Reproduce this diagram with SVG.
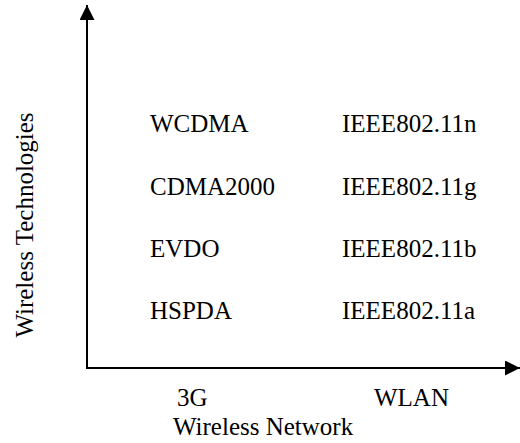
<svg xmlns="http://www.w3.org/2000/svg" width="520" height="443" viewBox="0 0 520 443">
<style>
  text { font-family: "Liberation Serif", "Times New Roman", serif; font-size: 25px; fill: #000; }
  .axis { stroke: #000; stroke-width: 2; fill: none; }
</style>
<defs>
  <marker id="arrow" viewBox="0 0 15 15" refX="15" refY="7.5" markerWidth="15" markerHeight="15" markerUnits="userSpaceOnUse" orient="auto">
    <path d="M0,0 L15,7.5 L0,15 z" fill="#000"/>
  </marker>
</defs>
<rect width="520" height="443" fill="#fff"/>
<g id="connectors">
  <line class="axis" x1="87" y1="369" x2="87" y2="5" marker-end="url(#arrow)"/>
  <line class="axis" x1="86" y1="368" x2="520" y2="368" marker-end="url(#arrow)"/>
</g>
<g id="ylabel"><text x="33" y="225" text-anchor="middle" transform="rotate(-90 33 225)">Wireless Technologies</text></g>
<g id="wcdma"><text x="150" y="132">WCDMA</text></g>
<g id="cdma2000"><text x="150" y="195">CDMA2000</text></g>
<g id="evdo"><text x="150" y="257">EVDO</text></g>
<g id="hspda"><text x="150" y="319">HSPDA</text></g>
<g id="ieee80211n"><text x="342" y="132">IEEE802.11n</text></g>
<g id="ieee80211g"><text x="342" y="195">IEEE802.11g</text></g>
<g id="ieee80211b"><text x="342" y="257">IEEE802.11b</text></g>
<g id="ieee80211a"><text x="342" y="319">IEEE802.11a</text></g>
<g id="label3g"><text x="177" y="406">3G</text></g>
<g id="labelwlan"><text x="374" y="406">WLAN</text></g>
<g id="xlabel"><text x="173" y="435">Wireless Network</text></g>
</svg>
